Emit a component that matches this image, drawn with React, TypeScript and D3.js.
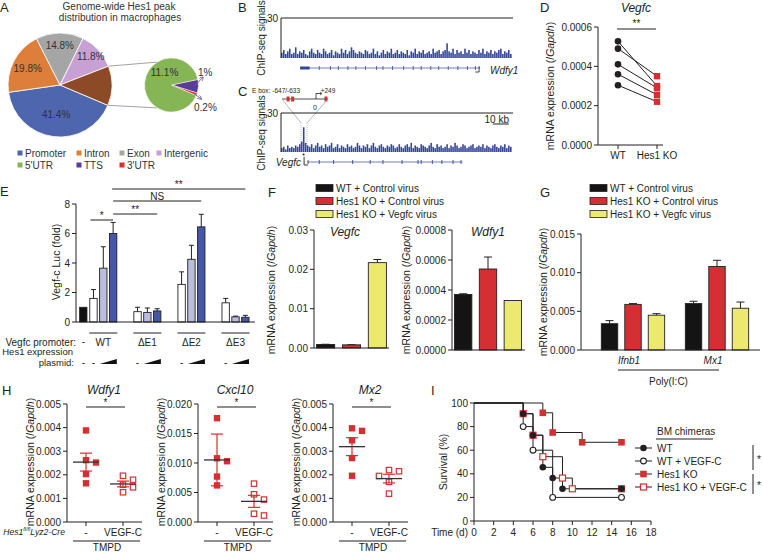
import React from "react";
import * as d3 from "d3";

const FONT = "'Liberation Sans', Arial, Helvetica, sans-serif";
const INK = "#231f20";
const RED = "#d62f33";
const YELLOW = "#ecea6e";

// A: Hes1 peak distribution (%)
const peakCategories = ["Promoter", "Intron", "Exon", "Intergenic", "5'UTR", "TTS", "3'UTR"];
const peakShares = [41.4, 19.8, 14.8, 11.8, 11.1, 1.0, 0.2];
const peakColors = ["#4d66ad", "#dd7e3b", "#a5a5a5", "#c9a0d3", "#85b554", "#5a3b97", "#d9302e"];
const otherColor = "#8c4a27";

// B/C: ChIP-seq signal bins (0-30 scale)
const wdfy1Signal = [
  4, 6, 3, 5, 7, 3, 4, 8, 3, 5, 4, 6, 3, 2, 5, 7, 4, 3, 6, 4,
  3, 7, 5, 3, 4, 6, 2, 5, 4, 3, 7, 4, 6, 3, 5, 8, 6, 4, 3, 5,
  4, 3, 6, 5, 3, 4, 7, 3, 5, 2, 4, 6, 3, 5, 4, 7, 3, 4, 6, 3,
  5, 4, 3, 6, 2, 5, 4, 7, 3, 5, 4, 6, 3, 4, 5, 3, 7, 4, 5, 6,
  3, 5, 6, 11, 5, 4, 7, 3, 6, 4, 5, 3, 7, 4, 6, 3, 5, 4, 3, 6,
  4, 7, 3, 5, 4, 6, 3, 5, 4, 6, 7, 3, 5, 4, 6, 3,
];
const vegfcSignal = [
  3, 4, 2, 5, 3, 4, 3, 5, 4, 6, 8, 19, 7, 5, 4, 6, 3, 5, 7, 4,
  5, 3, 6, 4, 5, 7, 3, 4, 6, 3, 5, 4, 3, 6, 4, 5, 3, 4, 7, 5,
  3, 5, 4, 6, 3, 5, 7, 4, 3, 5, 6, 4, 3, 5, 4, 6, 5, 3, 4, 6,
  4, 3, 5, 6, 4, 7, 3, 5, 4, 3, 6, 5, 4, 3, 5, 7, 4, 3, 6, 4,
  5, 3, 4, 6, 3, 5, 4, 7, 5, 3, 4, 6, 5, 3, 4, 5, 6, 3, 4, 5,
  4, 6, 3, 5, 4, 3, 5, 6, 4, 3, 5, 4, 6, 3, 5, 4,
];
// gene models, kb along the 145 kb window
const wdfy1Span = [12, 125];
const wdfy1Exons = [24, 31, 36, 42, 47, 53, 60, 64, 70, 77, 83, 88, 94, 99, 105, 111, 117, 122];
const vegfcSpan = [14.5, 114];
const vegfcExons = [17, 24, 33, 45, 56, 64, 76, 86, 88, 95, 101, 108, 113];

// D
const dGenotypes = ["WT", "Hes1 KO"];
const dWT = [0.000527, 0.00049, 0.00041, 0.00036, 0.000304];
const dKO = [0.0003, 0.00035, 0.00029, 0.000255, 0.00022];

// E
const promoterConstructs = ["WT", "ΔE1", "ΔE2", "ΔE3"];
const plasmidDoses = ["none", "low", "high"];
const lucControl = 1.0;
const lucMeans = [[1.6, 3.65, 6.0], [0.7, 0.65, 0.75], [2.55, 4.25, 6.45], [1.3, 0.35, 0.32]];
const lucErr = [[0.6, 1.45, 0.75], [0.3, 0.3, 0.15], [0.85, 0.95, 0.85], [0.3, 0.05, 0.13]];

// F / G
const virusGroups = ["WT + Control virus", "Hes1 KO + Control virus", "Hes1 KO + Vegfc virus"];
const virusColors = ["#141414", RED, YELLOW];
const fVegfcMean = [0.0009, 0.0008, 0.0217];
const fVegfcErr = [0.00005, 0.00005, 0.0008];
const fWdfy1Mean = [0.00037, 0.00054, 0.00033];
const fWdfy1Err = [0.000005, 0.00008, 0];
const gGenes = ["Ifnb1", "Mx1"];
const gMeans = [[0.0034, 0.0059, 0.0045], [0.006, 0.0108, 0.0054]];
const gErr = [[0.0004, 0.0001, 0.0002], [0.0003, 0.0008, 0.0008]];

// H
const hGenes = ["Wdfy1", "Cxcl10", "Mx2"];
const hMax = [0.005, 0.02, 0.005];
const hCtrl = [
  [0.00388, 0.00262, 0.00252, 0.00203, 0.00164],
  [0.0176, 0.0108, 0.0103, 0.0077, 0.0062],
  [0.00397, 0.00386, 0.00346, 0.00271, 0.00196],
];
const hVegfc = [
  [0.00196, 0.00179, 0.00158, 0.00147, 0.00126],
  [0.0065, 0.0047, 0.0038, 0.0014, 0.0011],
  [0.0022, 0.00215, 0.00195, 0.0017, 0.0012],
];
const hCtrlSpread = ["sem", "sd", "sem"];

// I
const survivalGroups = ["WT", "WT + VEGF-C", "Hes1 KO", "Hes1 KO + VEGF-C"];
const survivalDays = [[0, 5, 6, 7, 8, 9, 15], [0, 5, 6, 8, 15], [0, 7, 8, 11, 15], [0, 5, 6, 7, 9, 10, 15]];
const survivalPct = [
  [100, 90.9, 72.7, 45.5, 36.4, 27.3, 27.3],
  [100, 80, 60, 20, 20],
  [100, 91.7, 75, 66.7, 66.7],
  [100, 90.9, 72.7, 54.5, 36.4, 27.3, 27.3],
];

type Lin = d3.ScaleLinear<number, number>;

function LeftAxis({ y, x, count, fmt }: { y: Lin; x: number; count: number; fmt: string }) {
  const [b, t] = y.range();
  const f = d3.format(fmt);
  return (
    <g>
      <line x1={x} x2={x} y1={b} y2={t} stroke={INK} />
      {y.ticks(count).map((v) => (
        <g key={v}>
          <line x1={x - 4} x2={x} y1={y(v)} y2={y(v)} stroke={INK} />
          <text x={x - 6} y={y(v)} dominantBaseline="central" textAnchor="end">{f(v)}</text>
        </g>
      ))}
    </g>
  );
}

function MrnaLabel({ x, y }: { x: number; y: number }) {
  return (
    <text transform={`translate(${x},${y}) rotate(-90)`} textAnchor="middle" dominantBaseline="central" fontSize={10.5}>
      mRNA expression (/<tspan fontStyle="italic">Gapdh</tspan>)
    </text>
  );
}

function Letter({ x, y, t }: { x: number; y: number; t: string }) {
  return <text x={x} y={y} fontSize={13}>{t}</text>;
}

function PanelA() {
  const deg = Math.PI / 180;
  const cx = 60, cy = 85, r = 52;
  const sx = 171.5, sy = 85, sr = 27;
  const mainValues = [...peakShares.slice(0, 4), d3.sum(peakShares.slice(4))];
  const mainColors = [...peakColors.slice(0, 4), otherColor];
  const ms = 113 * deg;
  const main = d3.pie<number>().sort(null).startAngle(ms).endAngle(ms + 2 * Math.PI)(mainValues);
  const arc = d3.arc<d3.PieArcDatum<number>>().innerRadius(0).outerRadius(r);
  const subOrder = [5, 6, 4];
  const ss = 78 * deg;
  const sub = d3.pie<number>().sort(null).startAngle(ss).endAngle(ss + 2 * Math.PI)(subOrder.map((i) => peakShares[i]));
  const subArc = d3.arc<d3.PieArcDatum<number>>().innerRadius(0).outerRadius(sr);
  const mid = (d: d3.PieArcDatum<number>) => (d.startAngle + d.endAngle) / 2;
  const labelR = [0.58, 0.7, 0.76, 0.8];
  const other = main[4];
  const a1 = d3.pointRadial(other.startAngle, r);
  const a2 = d3.pointRadial(other.endAngle, r);
  const b1 = d3.pointRadial(-32 * deg, sr);
  const b2 = d3.pointRadial(212 * deg, sr);
  const t1 = d3.pointRadial(mid(sub[0]), sr * 0.85);
  const t2 = d3.pointRadial(76 * deg, 32.5);
  const u1 = d3.pointRadial(mid(sub[1]), sr * 0.85);
  const u2 = d3.pointRadial(115 * deg, 33);
  const g = d3.pointRadial(-30 * deg, 14);
  const colX = [20, 79, 122, 159];
  return (
    <g>
      <defs>
        <marker id="arrP" viewBox="0 0 6 6" refX="5" refY="3" markerWidth="5" markerHeight="5" orient="auto">
          <path d="M0,0 L6,3 L0,6" fill="none" stroke="#6f57a8" strokeWidth={1} />
        </marker>
      </defs>
      <Letter x={0} y={12} t="A" />
      <text x={119} y={10} textAnchor="middle" fill="#333">Genome-wide Hes1 peak</text>
      <text x={120} y={21} textAnchor="middle" fill="#333">distribution in macrophages</text>
      <g transform={`translate(${cx},${cy})`}>
        {main.map((d, i) => (
          <path key={i} d={arc(d) || ""} fill={mainColors[i]} stroke="#fff" strokeWidth={0.8} />
        ))}
        {main.slice(0, 4).map((d, i) => {
          const [x, y] = d3.pointRadial(mid(d), r * labelR[i]);
          return (
            <text key={i} x={x} y={y} textAnchor="middle" dominantBaseline="central" fill="#333">{`${d.data}%`}</text>
          );
        })}
      </g>
      <line x1={cx + a1[0]} y1={cy + a1[1]} x2={sx + b1[0]} y2={sy + b1[1]} stroke="#8a8a8a" strokeWidth={0.8} />
      <line x1={cx + a2[0]} y1={cy + a2[1]} x2={sx + b2[0]} y2={sy + b2[1]} stroke="#8a8a8a" strokeWidth={0.8} />
      <g transform={`translate(${sx},${sy})`}>
        {sub.map((d, i) => (
          <path key={i} d={subArc(d) || ""} fill={peakColors[subOrder[i]]} stroke="#fff" strokeWidth={0.5} />
        ))}
        <text x={g[0]} y={g[1]} textAnchor="middle" dominantBaseline="central" fill="#333">{`${peakShares[4]}%`}</text>
        <line x1={t1[0]} y1={t1[1]} x2={t2[0]} y2={t2[1]} stroke="#6f57a8" strokeWidth={0.9} markerEnd="url(#arrP)" />
        <line x1={u1[0]} y1={u1[1]} x2={u2[0]} y2={u2[1]} stroke="#6f57a8" strokeWidth={0.9} markerEnd="url(#arrP)" />
        <text x={26.5} y={-13} dominantBaseline="central" fill="#333">{`${peakShares[5]}%`}</text>
        <text x={22.5} y={22} dominantBaseline="central" fill="#333">{`${peakShares[6]}%`}</text>
      </g>
      {peakCategories.map((c, i) => {
        const x = colX[i % 4];
        const y = i < 4 ? 153 : 165;
        return (
          <g key={c}>
            <rect x={x - 2.5} y={y - 2.5} width={5} height={5} fill={peakColors[i]} />
            <text x={x + 5} y={y} dominantBaseline="central" fill="#333">{c}</text>
          </g>
        );
      })}
    </g>
  );
}

function ChipTrack({ signal, top, bottom }: { signal: number[]; top: number; bottom: number }) {
  const x = d3.scaleBand<number>(d3.range(signal.length), [281, 512]);
  const y = d3.scaleLinear([0, 30], [bottom, top]);
  return (
    <g>
      {signal.map((v, i) => (
        <rect key={i} x={x(i)} y={y(v)} width={x.bandwidth() * 0.8} height={bottom - y(v)} fill="#34459c" />
      ))}
      <line x1={281} x2={513} y1={top} y2={top} stroke={INK} />
      <line x1={281} x2={281} y1={top} y2={bottom} stroke={INK} />
      <text x={278} y={top} textAnchor="end" dominantBaseline="central">30</text>
    </g>
  );
}

function PanelBC() {
  const g = d3.scaleLinear([0, 145], [281, 512]);
  const e = d3.scaleLinear([-850, 300], [282, 328]);
  const wy = 68, vy = 162;
  return (
    <g>
      <Letter x={238} y={12} t="B" />
      <Letter x={238} y={96} t="C" />
      <text transform="translate(261,38) rotate(-90)" textAnchor="middle" dominantBaseline="central">ChIP-seq signals</text>
      <text transform="translate(261,133) rotate(-90)" textAnchor="middle" dominantBaseline="central">ChIP-seq signals</text>
      <ChipTrack signal={wdfy1Signal} top={18} bottom={58} />
      {/* Wdfy1 gene */}
      <line x1={g(wdfy1Span[0])} x2={g(wdfy1Span[1])} y1={wy} y2={wy} stroke="#34459c" strokeWidth={0.7} />
      <rect x={g(wdfy1Span[0])} y={wy - 1.5} width={g(18) - g(12)} height={3} fill="#34459c" />
      {wdfy1Exons.map((k) => (
        <line key={k} x1={g(k)} x2={g(k)} y1={wy - 2} y2={wy + 2} stroke="#34459c" strokeWidth={0.8} />
      ))}
      <path d={`M${g(wdfy1Span[1]) - 1},${wy - 2} V${wy + 4} H${g(wdfy1Span[1]) - 5}`} fill="none" stroke={INK} strokeWidth={0.8} />
      <text x={490} y={wy + 2} dominantBaseline="central" fontStyle="italic">Wdfy1</text>
      {/* E box inset */}
      <text x={252} y={90} fontSize={6.5} dominantBaseline="central">E box: -647/-633</text>
      <text x={e(249) + 2} y={90} fontSize={6.5} textAnchor="middle" dominantBaseline="central">+249</text>
      <line x1={282} x2={328} y1={99} y2={99} stroke={INK} strokeWidth={0.8} />
      <rect x={e(-647) - 3.5} y={96.5} width={3} height={5} fill={RED} />
      <rect x={e(-633) + 0.5} y={96.5} width={3} height={5} fill={RED} />
      <rect x={e(249) - 1.5} y={96.5} width={3} height={5} fill={RED} />
      <path d={`M${e(0)},99 V93.5 H${e(0) + 5}`} fill="none" stroke={INK} strokeWidth={0.8} />
      <path d={`M${e(0) + 4},92 L${e(0) + 6},93.5 L${e(0) + 4},95`} fill="none" stroke={INK} strokeWidth={0.7} />
      <text x={e(0) - 1} y={107} fontSize={7} textAnchor="middle" dominantBaseline="central">0</text>
      <line x1={282} y1={99} x2={301} y2={123} stroke="#999" strokeWidth={0.7} />
      <line x1={328} y1={99} x2={307} y2={123} stroke="#999" strokeWidth={0.7} />
      <line x1={301} y1={123} x2={301} y2={152} stroke="#999" strokeWidth={0.6} strokeDasharray="1,1" />
      <line x1={307} y1={123} x2={307} y2={152} stroke="#999" strokeWidth={0.6} strokeDasharray="1,1" />
      <ChipTrack signal={vegfcSignal} top={113} bottom={152} />
      <text x={509} y={119} textAnchor="end" dominantBaseline="central">10 kb</text>
      <line x1={g(133)} x2={g(143)} y1={124} y2={124} stroke={INK} />
      {/* Vegfc gene */}
      <circle cx={g(vegfcSpan[0]) - 0.5} cy={154.5} r={1} fill={INK} />
      <path d={`M${g(vegfcSpan[0])},${vy - 5} V${vy + 3} H${g(vegfcSpan[0]) + 4}`} fill="none" stroke={INK} strokeWidth={0.9} />
      <line x1={g(vegfcSpan[0]) + 3} x2={g(vegfcSpan[1])} y1={vy} y2={vy} stroke="#34459c" strokeWidth={0.7} />
      {vegfcExons.map((k) => (
        <line key={k} x1={g(k)} x2={g(k)} y1={vy - 2} y2={vy + 2} stroke="#34459c" strokeWidth={0.9} />
      ))}
      <text x={301} y={vy} textAnchor="end" dominantBaseline="central" fontStyle="italic">Vegfc</text>
    </g>
  );
}

function PanelD() {
  const y = d3.scaleLinear([0, 0.0006], [145, 27]);
  const x = d3.scalePoint(dGenotypes, [618, 657]);
  return (
    <g>
      <Letter x={540} y={12} t="D" />
      <text x={636} y={12} textAnchor="middle" fontSize={12} fontStyle="italic">Vegfc</text>
      <MrnaLabel x={550} y={86} />
      <LeftAxis y={y} x={598} count={3} fmt=".4f" />
      <line x1={598} x2={663} y1={145} y2={145} stroke={INK} />
      {dGenotypes.map((d) => (
        <g key={d}>
          <line x1={x(d)} x2={x(d)} y1={145} y2={149} stroke={INK} />
          <text x={x(d)} y={155} textAnchor="middle" dominantBaseline="central">{d}</text>
        </g>
      ))}
      <line x1={617} x2={656} y1={29} y2={29} stroke={INK} />
      <text x={636.5} y={27} textAnchor="middle">**</text>
      {dWT.map((v, i) => (
        <line key={i} x1={x("WT")} y1={y(v)} x2={x("Hes1 KO")} y2={y(dKO[i])} stroke={INK} strokeWidth={1} />
      ))}
      {dKO.map((v, i) => (
        <rect key={i} x={(x("Hes1 KO") || 0) - 3.2} y={y(v) - 3.2} width={6.4} height={6.4} fill={RED} />
      ))}
      {dWT.map((v, i) => (
        <circle key={i} cx={x("WT")} cy={y(v)} r={3.3} fill={INK} />
      ))}
    </g>
  );
}

function PanelE() {
  const base = 322;
  const y = d3.scaleLinear([0, 8], [base, 204]);
  const gx = d3.scalePoint(promoterConstructs, [103.3, 235.5]);
  const ix = d3.scaleBand(plasmidDoses, [-14.5, 14.5]).paddingInner(0.25).paddingOuter(0.1);
  const bw = ix.bandwidth();
  const fills = ["#ffffff", "#b9bee0", "#4557a8"];
  const left = (c: string, d: string) => (gx(c) || 0) + (ix(d) || 0);
  const mid = (c: string, d: string) => left(c, d) + bw / 2;
  const ctrlX = (gx("WT") || 0) - 20;
  const sig = [
    { x1: mid("WT", "none") - 3, x2: mid("WT", "high"), y: 220, t: "*" },
    { x1: mid("WT", "high"), x2: mid("ΔE1", "high"), y: 214, t: "**" },
    { x1: mid("WT", "high"), x2: mid("ΔE2", "high"), y: 201, t: "NS" },
    { x1: mid("WT", "high") - 1, x2: mid("ΔE3", "high"), y: 189, t: "**" },
  ];
  return (
    <g>
      <Letter x={0} y={196} t="E" />
      <text transform="translate(56,262) rotate(-90)" textAnchor="middle" dominantBaseline="central" fontSize={10.5}>Vegf-c Luc (fold)</text>
      {sig.map((s, i) => (
        <g key={i}>
          <line x1={s.x1} x2={s.x2} y1={s.y} y2={s.y} stroke={INK} />
          <text x={(s.x1 + s.x2) / 2} y={s.y - (s.t === "NS" ? 1.5 : 1)} textAnchor="middle">{s.t}</text>
        </g>
      ))}
      <rect x={ctrlX - bw / 2} y={y(lucControl)} width={bw} height={base - y(lucControl)} fill="#111" stroke={INK} strokeWidth={0.8} />
      {promoterConstructs.map((c, ci) =>
        plasmidDoses.map((d, di) => {
          const v = lucMeans[ci][di];
          const top = v + lucErr[ci][di];
          return (
            <g key={c + d}>
              <line x1={mid(c, d)} x2={mid(c, d)} y1={y(v)} y2={y(top)} stroke={INK} strokeWidth={1} />
              <line x1={mid(c, d) - 2.5} x2={mid(c, d) + 2.5} y1={y(top)} y2={y(top)} stroke={INK} strokeWidth={1} />
              <rect x={left(c, d)} y={y(v)} width={bw} height={base - y(v)} fill={fills[di]} stroke={INK} strokeWidth={0.9} />
            </g>
          );
        })
      )}
      <LeftAxis y={y} x={76} count={4} fmt="d" />
      <line x1={76} x2={255} y1={base} y2={base} stroke={INK} />
      <text x={76} y={342} textAnchor="end" dominantBaseline="central">Vegfc promoter:</text>
      <text x={ctrlX} y={341} textAnchor="middle" dominantBaseline="central">-</text>
      <text x={73} y={351.5} textAnchor="end" dominantBaseline="central" fontSize={9.5}>Hes1 expression</text>
      <text x={74} y={362} textAnchor="end" dominantBaseline="central" fontSize={9.5}>plasmid:</text>
      <text x={ctrlX} y={362} textAnchor="middle" dominantBaseline="central">-</text>
      {promoterConstructs.map((c) => {
        const cx = gx(c) || 0;
        const x1 = left(c, "low");
        const x2 = left(c, "high") + bw;
        return (
          <g key={c}>
            <line x1={cx - 14} x2={cx + 14} y1={333} y2={333} stroke={INK} />
            <text x={cx} y={342} textAnchor="middle" dominantBaseline="central">{c}</text>
            <text x={mid(c, "none")} y={362} textAnchor="middle" dominantBaseline="central">-</text>
            <path d={`M${x1},364 L${x2},364 L${x2},359 Z`} fill="#111" />
          </g>
        );
      })}
    </g>
  );
}

function Bars({ x, y, means, errs, names }: { x: d3.ScaleBand<string>; y: Lin; means: number[]; errs: number[]; names: string[] }) {
  const bw = x.bandwidth();
  const base = y(0);
  return (
    <g>
      {names.map((n, i) => {
        const cx = (x(n) || 0) + bw / 2;
        const top = y(means[i] + errs[i]);
        return (
          <g key={n}>
            {errs[i] > 0 && (
              <g>
                <line x1={cx} x2={cx} y1={y(means[i])} y2={top} stroke={INK} />
                <line x1={cx - 4} x2={cx + 4} y1={top} y2={top} stroke={INK} />
              </g>
            )}
            <rect x={x(n)} y={y(means[i])} width={bw} height={base - y(means[i])} fill={virusColors[i]} stroke={INK} strokeWidth={0.9} />
          </g>
        );
      })}
    </g>
  );
}

function VirusLegend({ x, y }: { x: number; y: number }) {
  return (
    <g>
      {virusGroups.map((n, i) => (
        <g key={n}>
          <rect x={x} y={y + i * 13 - 3.5} width={17} height={7} fill={virusColors[i]} stroke={INK} strokeWidth={0.8} />
          <text x={x + 20} y={y + i * 13} dominantBaseline="central">{n}</text>
        </g>
      ))}
    </g>
  );
}

function PanelF() {
  const y1 = d3.scaleLinear([0, 0.03], [348, 230]);
  const x1 = d3.scaleBand(virusGroups, [314, 389]).paddingInner(0.3).paddingOuter(0.1);
  const y2 = d3.scaleLinear([0, 0.0008], [350, 230]);
  const x2 = d3.scaleBand(virusGroups, [452, 524]).paddingInner(0.3).paddingOuter(0.1);
  return (
    <g>
      <Letter x={268} y={197} t="F" />
      <VirusLegend x={316} y={188} />
      <MrnaLabel x={271} y={290} />
      <text x={345} y={232} textAnchor="middle" dominantBaseline="central" fontSize={12} fontStyle="italic">Vegfc</text>
      <Bars x={x1} y={y1} means={fVegfcMean} errs={fVegfcErr} names={virusGroups} />
      <LeftAxis y={y1} x={314} count={3} fmt=".2f" />
      <line x1={314} x2={389} y1={348} y2={348} stroke={INK} />
      <MrnaLabel x={406} y={290} />
      <text x={488} y={232} textAnchor="middle" dominantBaseline="central" fontSize={12} fontStyle="italic">Wdfy1</text>
      <Bars x={x2} y={y2} means={fWdfy1Mean} errs={fWdfy1Err} names={virusGroups} />
      <LeftAxis y={y2} x={452} count={4} fmt=".4f" />
      <line x1={452} x2={525} y1={350} y2={350} stroke={INK} />
    </g>
  );
}

function PanelG() {
  const y = d3.scaleLinear([0, 0.015], [350, 234]);
  const outer = d3.scaleBand(gGenes, [591, 759]);
  const inner = d3.scaleBand(virusGroups, [0, outer.bandwidth()]).paddingInner(0.3).paddingOuter(0.44);
  const gc = (g: string) => (outer(g) || 0) + outer.bandwidth() / 2;
  const lx1 = gc("Ifnb1") - 15;
  const lx2 = gc("Mx1") + 2;
  return (
    <g>
      <Letter x={540} y={197} t="G" />
      <VirusLegend x={590} y={188} />
      <MrnaLabel x={543} y={292} />
      {gGenes.map((g, gi) => (
        <g key={g} transform={`translate(${outer(g)},0)`}>
          <Bars x={inner} y={y} means={gMeans[gi]} errs={gErr[gi]} names={virusGroups} />
        </g>
      ))}
      <LeftAxis y={y} x={581} count={3} fmt=".3f" />
      <line x1={581} x2={760} y1={350} y2={350} stroke={INK} />
      {gGenes.map((g) => (
        <text key={g} x={gc(g) - 4} y={360} textAnchor="middle" dominantBaseline="central" fontStyle="italic">{g}</text>
      ))}
      <line x1={lx1} x2={lx2} y1={370} y2={370} stroke={INK} />
      <text x={(lx1 + lx2) / 2} y={381} textAnchor="middle" dominantBaseline="central">Poly(I:C)</text>
    </g>
  );
}

function swarm(values: number[], y: Lin, cx: number, size = 6) {
  const placed: { x: number; y: number }[] = [];
  const offsets = [0, 5, -5, 10, -10];
  return values.map((v) => {
    const py = y(v);
    let px = cx;
    for (const o of offsets) {
      if (placed.every((p) => Math.abs(p.x - (cx + o)) >= size || Math.abs(p.y - py) >= size)) {
        px = cx + o;
        break;
      }
    }
    placed.push({ x: px, y: py });
    return { x: px, y: py };
  });
}

function ScatterGroup({ values, y, cx, open, spread }: { values: number[]; y: Lin; cx: number; open: boolean; spread: string }) {
  const m = d3.mean(values) || 0;
  const sd = d3.deviation(values) || 0;
  const e = spread === "sd" ? sd : sd / Math.sqrt(values.length);
  const pts = swarm(values, y, cx);
  return (
    <g>
      {pts.map((p, i) =>
        open ? (
          <rect key={i} x={p.x - 2.7} y={p.y - 2.7} width={5.4} height={5.4} fill="#fff" stroke={RED} strokeWidth={1.2} />
        ) : (
          <rect key={i} x={p.x - 3.2} y={p.y - 3.2} width={6.4} height={6.4} fill={RED} />
        )
      )}
      <line x1={cx} x2={cx} y1={y(m - e)} y2={y(m + e)} stroke={RED} strokeWidth={1.2} />
      <line x1={cx - 6} x2={cx + 6} y1={y(m - e)} y2={y(m - e)} stroke={RED} strokeWidth={1.2} />
      <line x1={cx - 6} x2={cx + 6} y1={y(m + e)} y2={y(m + e)} stroke={RED} strokeWidth={1.2} />
      <line x1={cx - 13} x2={cx + 13} y1={y(m)} y2={y(m)} stroke="#333" strokeWidth={1.3} />
    </g>
  );
}

function PanelH() {
  const x0s = [67, 198, 333];
  return (
    <g>
      <Letter x={2} y={395} t="H" />
      {hGenes.map((gname, gi) => {
        const x0 = x0s[gi];
        const y = d3.scaleLinear([0, hMax[gi]], [522, 404]);
        const xc = d3.scalePoint(["-", "VEGF-C"], [x0 + 19, x0 + 56]);
        const c1 = xc("-") || 0;
        const c2 = xc("VEGF-C") || 0;
        return (
          <g key={gname}>
            <text x={x0 + 37} y={390} textAnchor="middle" dominantBaseline="central" fontSize={12} fontStyle="italic">{gname}</text>
            <MrnaLabel x={x0 - 37} y={462} />
            <line x1={c1} x2={c2 + 2} y1={407} y2={407} stroke={INK} />
            <text x={(c1 + c2) / 2 + 1} y={406} textAnchor="middle">*</text>
            <ScatterGroup values={hCtrl[gi]} y={y} cx={c1} open={false} spread={hCtrlSpread[gi]} />
            <ScatterGroup values={hVegfc[gi]} y={y} cx={c2} open={true} spread="sem" />
            <LeftAxis y={y} x={x0} count={gi === 1 ? 4 : 5} fmt=".3f" />
            <line x1={x0} x2={x0 + 75} y1={522} y2={522} stroke={INK} />
            {["-", "VEGF-C"].map((k) => (
              <g key={k}>
                <line x1={xc(k)} x2={xc(k)} y1={522} y2={526} stroke={INK} />
                <text x={xc(k)} y={532} textAnchor="middle" dominantBaseline="central">{k}</text>
              </g>
            ))}
            <line x1={x0 + 6} x2={x0 + 73} y1={541} y2={541} stroke={INK} />
            <text x={x0 + 40} y={547} textAnchor="middle" dominantBaseline="central">TMPD</text>
          </g>
        );
      })}
      <text x={65} y={532} textAnchor="end" dominantBaseline="central" fontStyle="italic" fontSize={8.6}>
        Hes1<tspan fontSize={5.5} dy={-3}>fl/fl</tspan><tspan dy={3}>Lyz2-Cre</tspan>
      </text>
    </g>
  );
}

function SurvMarker({ k, x, y }: { k: number; x: number; y: number }) {
  if (k === 0) return <circle cx={x} cy={y} r={3.3} fill={INK} />;
  if (k === 1) return <circle cx={x} cy={y} r={2.9} fill="#fff" stroke={INK} strokeWidth={1.1} />;
  if (k === 2) return <rect x={x - 3.3} y={y - 3.3} width={6.6} height={6.6} fill={RED} />;
  return <rect x={x - 3} y={y - 3} width={6} height={6} fill="#fff" stroke={RED} strokeWidth={1.2} />;
}

function PanelI() {
  const x = d3.scaleLinear([0, 18], [474, 651]);
  const y = d3.scaleLinear([0, 100], [521, 403]);
  const line = d3.line<[number, number]>().x((d) => x(d[0])).y((d) => y(d[1])).curve(d3.curveStepAfter);
  const order = [3, 2, 1, 0];
  const legY = [448, 461, 474, 487];
  return (
    <g>
      <Letter x={431} y={395} t="I" />
      <text transform="translate(443,462) rotate(-90)" textAnchor="middle" dominantBaseline="central" fontSize={10.5}>Survival (%)</text>
      {order.map((k) => (
        <path key={k} d={line(survivalDays[k].map((d, i) => [d, survivalPct[k][i]] as [number, number])) || ""} fill="none" stroke={INK} strokeWidth={1} />
      ))}
      {order.map((k) =>
        survivalDays[k].slice(1).map((d, i) => <SurvMarker key={`${k}-${i}`} k={k} x={x(d)} y={y(survivalPct[k][i + 1])} />)
      )}
      <LeftAxis y={y} x={474} count={5} fmt="d" />
      <line x1={474} x2={651} y1={521} y2={521} stroke={INK} />
      {x.ticks(9).map((t) => (
        <g key={t}>
          <line x1={x(t)} x2={x(t)} y1={521} y2={525} stroke={INK} />
          <text x={x(t)} y={532} textAnchor="middle" dominantBaseline="central">{t}</text>
        </g>
      ))}
      <text x={468} y={532} textAnchor="end" dominantBaseline="central">Time (d)</text>
      <text x={657} y={431} dominantBaseline="central">BM chimeras</text>
      <line x1={656} x2={713} y1={439} y2={439} stroke={INK} />
      {survivalGroups.map((n, k) => (
        <g key={n}>
          <line x1={635} x2={652} y1={legY[k]} y2={legY[k]} stroke={INK} />
          <SurvMarker k={k} x={643.5} y={legY[k]} />
          <text x={657} y={legY[k]} dominantBaseline="central">{n}</text>
        </g>
      ))}
      <line x1={753} x2={753} y1={445} y2={470} stroke={INK} />
      <text x={759} y={463} textAnchor="middle">*</text>
      <line x1={753} x2={753} y1={474} y2={494} stroke={INK} />
      <text x={759} y={489} textAnchor="middle">*</text>
    </g>
  );
}

export default function App() {
  return (
    <svg
      width={763}
      height={552}
      viewBox="0 0 763 552"
      style={{ position: "absolute", left: 0, top: 0, background: "#fff" }}
      fontFamily={FONT}
      fontSize={10}
      fill={INK}
    >
      <rect width={763} height={552} fill="#fff" />
      <PanelA />
      <PanelBC />
      <PanelD />
      <PanelE />
      <PanelF />
      <PanelG />
      <PanelH />
      <PanelI />
    </svg>
  );
}
